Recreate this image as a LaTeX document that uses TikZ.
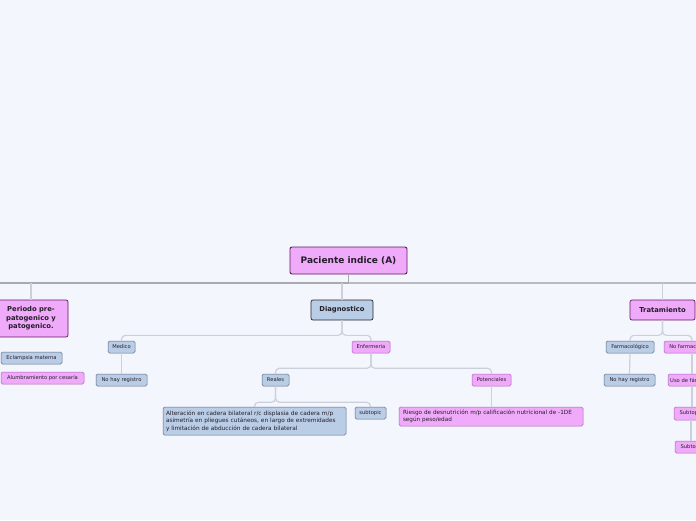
\documentclass[tikz,border=0pt]{standalone}
\usepackage{fontspec}
\setmainfont{DejaVu Sans}
\usetikzlibrary{positioning}
\hyphenpenalty=10000

\definecolor{bgcol}{RGB}{244,246,254}
\definecolor{pinkfill}{RGB}{240,170,250}
\definecolor{pinkline}{RGB}{175,95,185}
\definecolor{rootline}{RGB}{95,25,95}
\definecolor{bluefill}{RGB}{186,205,230}
\definecolor{blueline}{RGB}{95,110,130}
\definecolor{wirecol}{RGB}{204,208,218}
\definecolor{buscol}{RGB}{168,170,174}
\definecolor{textcol}{RGB}{35,30,40}

\begin{document}
\begin{tikzpicture}[
  x=1pt, y=-1pt,
  text=textcol,
  % Estilos de nodos
  rootbox/.style={draw=rootline, fill=pinkfill, rounded corners=2pt, line width=0.9pt, inner sep=0pt,
    minimum width=117pt, minimum height=27pt, font=\fontsize{9}{10}\selectfont\bfseries},
  topicpink/.style={draw=rootline, fill=pinkfill, rounded corners=2pt, line width=0.7pt, inner sep=0pt,
    minimum height=20pt, align=center, font=\fontsize{6.8}{8.5}\selectfont\bfseries},
  topicblue/.style={topicpink, draw=black!85, fill=bluefill},
  subpink/.style={draw=pinkline, fill=pinkfill, rounded corners=1.5pt, line width=0.5pt, inner sep=0pt,
    minimum height=12pt, font=\fontsize{5.2}{6}\selectfont},
  subblue/.style={subpink, draw=blueline, fill=bluefill},
  % Estilos de conectores
  bus/.style={draw=buscol, line width=1.8pt},
  wire/.style={draw=wirecol, line width=1.2pt, rounded corners=4pt}
]

  \clip (0,0) rectangle (696,520);
  \fill[bgcol] (0,0) rectangle (696,520);

  % ==========================================
  % RAIZ Y BUS PRINCIPAL
  % ==========================================
  \node[rootbox] (root) at (348.5,260.5) {Paciente indice (A)};
  \coordinate (busL) at (-5,283);
  \coordinate (busR) at (701,283);

  \draw[bus] (root.south) -- (root.south |- busL);
  \draw[bus] (root.south |- busL) -- (busL);
  \draw[bus, draw=buscol!80, line width=1.4pt] (root.south |- busL) -- (busR);

  % ==========================================
  % PERIODO PRE-PATOGENICO
  % ==========================================
  \node[topicpink, minimum width=74pt, minimum height=37pt] (periodo) at (31,318.5)
    {Periodo pre-\\patogenico y\\patogenico.};
  \node[subblue, minimum width=61pt] (eclampsia) at (31.5,358) {Eclampsia materna};
  \node[subpink, minimum width=83pt] (alumbra) at (42.5,378) {Alumbramiento por cesaría};

  \draw[wire, line width=1.4pt] (periodo.north |- busL) -- (periodo.north);

  % ==========================================
  % DIAGNOSTICO
  % ==========================================
  \node[topicblue, minimum width=62pt] (diag) at (342,310) {Diagnostico};
  \node[subblue, minimum width=27pt] (medico) at (121.5,347) {Medico};
  \node[subblue, minimum width=51pt] (noreg1) at (121.5,380) {No hay registro};
  \node[subpink, minimum width=38pt] (enf) at (371,347) {Enfermeria};
  \node[subblue, minimum width=27pt] (reales) at (275.5,380) {Reales};
  \node[subpink, minimum width=39pt] (poten) at (491.5,380) {Potenciales};
  \node[subblue, text width=177pt, inner xsep=3pt, minimum height=28pt, align=left,
    font=\fontsize{5.8}{7.4}\selectfont] (alter) at (254.5,421)
    {Alteración en cadera bilateral r/c displasia de cadera m/p\\asimetría en pliegues cutáneos, en largo de extremidades\\y limitación de abducción de cadera bilateral};
  \node[subblue, minimum width=31pt] (subtopic) at (370.5,413) {subtopic};
  \node[subpink, text width=176pt, inner xsep=4pt, minimum height=19pt, align=left,
    font=\fontsize{5.7}{6.6}\selectfont] (riesgo) at (491,416.5)
    {Riesgo de desnutrición m/p calificación nutricional de -1DE\\según peso/edad};

  \draw[wire, line width=1.4pt] (diag.north |- busL) -- (diag.north);
  \draw[wire] (diag.south) -- ++(0,15) -| (medico.north);
  \draw[wire] (diag.south) -- ++(0,15) -| (enf.north);
  \draw[wire] (medico.south) -- (noreg1.north);
  \draw[wire] (enf.south) -- ++(0,15) -| (reales.north);
  \draw[wire] (enf.south) -- ++(0,15) -| (poten.north);
  \draw[wire] (reales.south) -- ++(0,16) -| (alter.north);
  \draw[wire] (reales.south) -- ++(0,16) -| (subtopic.north);
  \draw[wire] (poten.south) -- (poten.south |- riesgo.north);

  % ==========================================
  % TRATAMIENTO
  % ==========================================
  \node[topicpink, minimum width=65pt] (trat) at (662.5,310) {Tratamiento};
  \node[subblue, minimum width=48pt] (farma) at (630,347) {Farmacológico};
  \node[subblue, minimum width=51pt] (noreg2) at (629.5,380) {No hay registro};
  \node[subpink, minimum width=56pt] (nofarma) at (692,347) {No farmacológico};
  \node[subpink, minimum width=48pt] (uso) at (692,380) {Uso de fármacos};
  \node[subpink, minimum width=34pt, minimum height=13pt] (subt1) at (691,413.5) {Subtopic};
  \node[subpink, minimum width=34pt] (subt2) at (692,447) {Subtopic};

  \draw[wire, line width=1.4pt] (trat.north |- busL) -- (trat.north);
  \draw[wire] (trat.south) -- ++(0,15) -| (farma.north);
  \draw[wire] (trat.south) -- ++(0,15) -| (nofarma.north);
  \draw[wire] (farma.south) -- (noreg2.north);
  \draw[wire] (nofarma.south) -- (uso.north);
  \draw[wire] (uso.south) -- (uso.south |- subt1.north);
  \draw[wire] (subt1.south) -- (subt1.south |- subt2.north);

\end{tikzpicture}
\end{document}
